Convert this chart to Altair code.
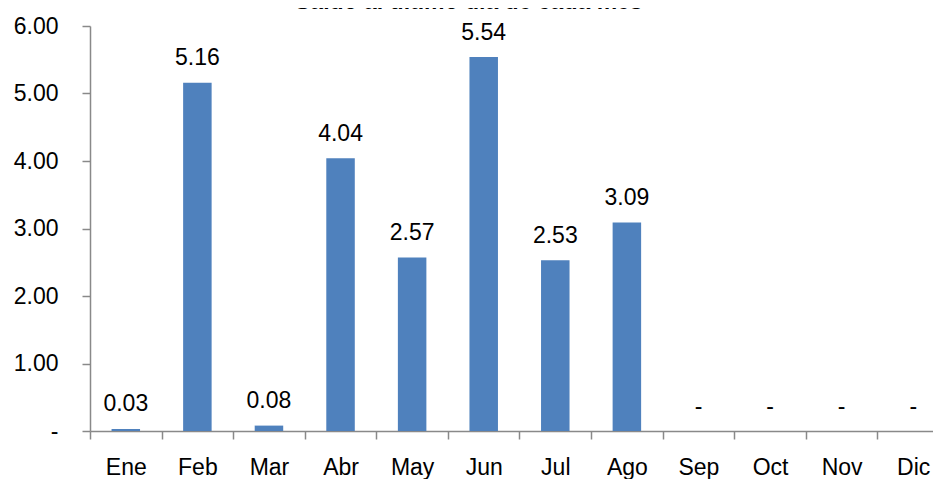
import altair as alt
import pandas as pd

months = ["Ene", "Feb", "Mar", "Abr", "May", "Jun", "Jul", "Ago", "Sep", "Oct", "Nov", "Dic"]
values = [0.03, 5.16, 0.08, 4.04, 2.57, 5.54, 2.53, 3.09, 0, 0, 0, 0]
title_text = "Saldo al último día de cada mes"

df = pd.DataFrame({"mes": months, "saldo": values})

FONT = "Liberation Sans Narrow, Arial Narrow, Liberation Sans, sans-serif"
AXIS_COLOR = "#898989"

x_enc = alt.X(
    "mes:N",
    sort=months,
    scale=alt.Scale(paddingInner=0, paddingOuter=0, range=[0, 859]),
    axis=alt.Axis(
        title=None,
        labelAngle=0,
        tickBand="extent",
        tickSize=8,
        labelPadding=17,
        labelFontSize=23,
        labelFont=FONT,
        labelColor="black",
        domainColor=AXIS_COLOR,
        tickColor=AXIS_COLOR,
        domainWidth=1.5,
        tickWidth=1.5,
    ),
)

y_enc = alt.Y(
    "saldo:Q",
    scale=alt.Scale(domain=[0, 6], nice=False),
    axis=alt.Axis(
        title=None,
        values=[0, 1, 2, 3, 4, 5, 6],
        grid=False,
        labelExpr="datum.value == 0 ? '-\u00a0\u00a0' : format(datum.value, '.2f')",
        tickSize=8,
        labelPadding=24,
        labelFontSize=23,
        labelFont=FONT,
        labelColor="black",
        domainColor=AXIS_COLOR,
        tickColor=AXIS_COLOR,
        domainWidth=1.5,
        tickWidth=1.5,
    ),
)

base = alt.Chart(df).encode(x=x_enc, y=y_enc)

bars = base.mark_bar(color="#4F81BD", size=28.5)

labels = base.transform_calculate(
    lbl="datum.saldo == 0 ? '-' : format(datum.saldo, '.2f')"
).mark_text(
    font=FONT, fontSize=23, color="black", baseline="alphabetic", dy=-17.5
).encode(text="lbl:N")

chart = (
    alt.layer(bars, labels)
    .properties(
        width=843,
        height=405,
        autosize=alt.AutoSizeParams(type="none"),
        padding={"left": 82, "top": 18, "right": 0, "bottom": 48},
        title=alt.TitleParams(
            text=title_text,
            font=FONT,
            fontSize=23,
            fontWeight="bold",
            color="black",
            anchor="start",
            frame="group",
            baseline="alphabetic",
            offset=0,
            dx=205,
            dy=17,
        ),
    )
    .configure_view(stroke=None)
)

chart.save("out.html", embed_options={"renderer": "svg", "actions": False})
